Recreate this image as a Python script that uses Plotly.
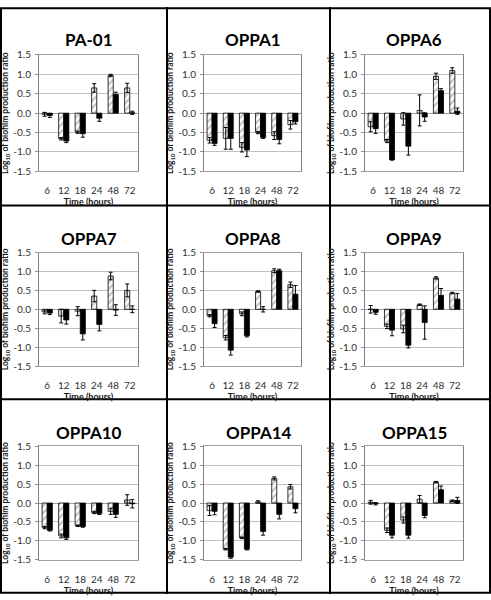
import plotly.graph_objects as go

times = ["6", "12", "18", "24", "48", "72"]
panel_names = ["PA-01", "OPPA1", "OPPA6", "OPPA7", "OPPA8", "OPPA9", "OPPA10", "OPPA14", "OPPA15"]
y_ticks = [-1.5, -1.0, -0.5, 0.0, 0.5, 1.0, 1.5]
y_tick_text = ["-1.5", "-1.0", "-0.5", "0.0", "0.5", "1.0", "1.5"]

# hatched series / black series, with error (SD) values
pa01_h = [-0.03, -0.66, -0.49, 0.65, 0.97, 0.65]
pa01_h_err = [0.05, 0.03, 0.03, 0.11, 0.03, 0.12]
pa01_b = [-0.06, -0.72, -0.53, -0.13, 0.48, 0.01]
pa01_b_err = [0.05, 0.04, 0.09, 0.08, 0.06, 0.04]

oppa1_h = [-0.70, -0.65, -0.88, -0.50, -0.58, -0.30]
oppa1_h_err = [0.07, 0.28, 0.12, 0.03, 0.10, 0.11]
oppa1_b = [-0.78, -0.65, -0.95, -0.63, -0.68, -0.22]
oppa1_b_err = [0.05, 0.28, 0.17, 0.02, 0.11, 0.06]

oppa6_h = [-0.35, -0.72, -0.15, 0.07, 0.95, 1.10]
oppa6_h_err = [0.13, 0.04, 0.16, 0.40, 0.08, 0.07]
oppa6_b = [-0.40, -1.20, -0.85, -0.10, 0.58, 0.05]
oppa6_b_err = [0.12, 0.01, 0.23, 0.11, 0.05, 0.08]

oppa7_h = [-0.07, -0.18, -0.05, 0.35, 0.88, 0.50]
oppa7_h_err = [0.05, 0.18, 0.12, 0.15, 0.10, 0.17]
oppa7_b = [-0.10, -0.28, -0.65, -0.40, -0.02, 0.00]
oppa7_b_err = [0.04, 0.11, 0.16, 0.17, 0.14, 0.09]

oppa8_h = [-0.17, -0.75, -0.12, 0.47, 1.02, 0.65]
oppa8_h_err = [0.03, 0.06, 0.05, 0.02, 0.05, 0.07]
oppa8_b = [-0.38, -1.08, -0.70, 0.00, 1.02, 0.40]
oppa8_b_err = [0.10, 0.13, 0.03, 0.07, 0.04, 0.23]

oppa9_h = [0.00, -0.45, -0.52, 0.12, 0.83, 0.43]
oppa9_h_err = [0.10, 0.06, 0.10, 0.02, 0.03, 0.02]
oppa9_b = [-0.08, -0.55, -0.95, -0.35, 0.37, 0.27]
oppa9_b_err = [0.05, 0.15, 0.07, 0.44, 0.18, 0.15]

oppa10_h = [-0.65, -0.87, -0.60, -0.25, -0.22, 0.08]
oppa10_h_err = [0.03, 0.05, 0.02, 0.03, 0.08, 0.14]
oppa10_b = [-0.72, -0.92, -0.62, -0.28, -0.30, -0.02]
oppa10_b_err = [0.02, 0.04, 0.02, 0.02, 0.08, 0.11]

oppa14_h = [-0.20, -1.22, -0.92, 0.03, 0.65, 0.43]
oppa14_h_err = [0.13, 0.02, 0.02, 0.03, 0.04, 0.06]
oppa14_b = [-0.22, -1.43, -1.22, -0.75, -0.30, -0.15]
oppa14_b_err = [0.09, 0.03, 0.02, 0.10, 0.12, 0.11]

oppa15_h = [0.02, -0.72, -0.45, 0.10, 0.55, 0.06]
oppa15_h_err = [0.05, 0.06, 0.08, 0.10, 0.02, 0.02]
oppa15_b = [-0.02, -0.85, -0.85, -0.33, 0.35, 0.07]
oppa15_b_err = [0.03, 0.07, 0.08, 0.06, 0.10, 0.08]

hatched_sets = [pa01_h, oppa1_h, oppa6_h, oppa7_h, oppa8_h, oppa9_h, oppa10_h, oppa14_h, oppa15_h]
hatched_errs = [pa01_h_err, oppa1_h_err, oppa6_h_err, oppa7_h_err, oppa8_h_err, oppa9_h_err,
                oppa10_h_err, oppa14_h_err, oppa15_h_err]
black_sets = [pa01_b, oppa1_b, oppa6_b, oppa7_b, oppa8_b, oppa9_b, oppa10_b, oppa14_b, oppa15_b]
black_errs = [pa01_b_err, oppa1_b_err, oppa6_b_err, oppa7_b_err, oppa8_b_err, oppa9_b_err,
              oppa10_b_err, oppa14_b_err, oppa15_b_err]

W, H = 491, 600
col_px = [(39, 138), (204, 301), (365, 463)]
row_px = [(49, 168), (251, 367), (449, 565)]
title_y_px = [33, 237, 435]
title_dx_px = [0, 0, 0, 0, 0, 0, 0, 6, 0]

FONT = "Lato"
fig = go.Figure()
layout = dict(
    width=W, height=H,
    margin=dict(l=0, r=0, t=0, b=0),
    paper_bgcolor="white", plot_bgcolor="white",
    showlegend=False,
    barmode="group", bargap=0.38, bargroupgap=0.0,
    font=dict(family=FONT, size=10, color="#303030"),
)
annotations = []
n = len(panel_names)
for i, name in enumerate(panel_names):
    r, c = divmod(i, 3)
    ax = "" if i == 0 else str(i + 1)
    xa, ya = "x" + ax, "y" + ax
    fig.add_trace(go.Bar(
        x=times, y=hatched_sets[i], xaxis=xa, yaxis=ya,
        marker=dict(color="white", line=dict(color="black", width=0.8),
                    pattern=dict(shape="/", fgcolor="#8c8c8c", bgcolor="white",
                                 size=5, solidity=0.45)),
        error_y=dict(type="data", array=hatched_errs[i], color="black", thickness=1, width=2),
        name="hatched",
    ))
    fig.add_trace(go.Bar(
        x=times, y=black_sets[i], xaxis=xa, yaxis=ya,
        marker=dict(color="black", line=dict(color="black", width=0.8)),
        error_y=dict(type="data", array=black_errs[i], color="black", thickness=1, width=2),
        name="black",
    ))
    x0, x1 = col_px[c]
    y0, y1 = row_px[r]
    ydom = [1 - y1 / H, 1 - y0 / H]
    layout["xaxis" + ax] = dict(
        domain=[x0 / W, x1 / W], anchor=ya, type="category",
        showline=True, linecolor="#a0a0a0", linewidth=1, mirror=True,
        showgrid=False, ticks="", ticklabelstandoff=10,
        tickfont=dict(size=10, family=FONT, color="#303030"),
        title=dict(text="<b>Time (hours)</b>", font=dict(size=9, family=FONT, color="#202020"),
                   standoff=0),
        fixedrange=True,
    )
    # category-boundary tick marks along the zero line
    k = str(n + 1 + i)
    layout["xaxis" + k] = dict(
        domain=[x0 / W, x1 / W], overlaying=xa, anchor="free",
        position=(ydom[0] + ydom[1]) / 2, side="bottom",
        type="linear", range=[-0.5, len(times) - 0.5],
        tickvals=[j - 0.5 for j in range(len(times) + 1)],
        showticklabels=False, ticks="outside", ticklen=3, tickcolor="#909090",
        showline=False, showgrid=False, zeroline=False, fixedrange=True,
    )
    layout["yaxis" + ax] = dict(
        domain=ydom, anchor=xa, range=[-1.5, 1.5],
        tickvals=y_ticks, ticktext=y_tick_text,
        showline=True, linecolor="#808080", linewidth=1, mirror=True,
        showgrid=True, gridcolor="#c0c0c0", gridwidth=1,
        zeroline=True, zerolinecolor="#a0a0a0", zerolinewidth=1,
        ticks="outside", ticklen=3, tickcolor="#909090", ticklabelstandoff=2,
        tickfont=dict(size=10, family=FONT, color="#303030"),
        title=dict(text="<b>Log<sub>10</sub> of biofilm production ratio</b>",
                   font=dict(size=8.5, family=FONT, color="#202020"), standoff=3),
        fixedrange=True,
    )
    annotations.append(dict(
        text="<b>" + name + "</b>", xref="paper", yref="paper",
        x=((x0 + x1) / 2 + title_dx_px[i]) / W, y=1 - title_y_px[r] / H,
        xanchor="center", yanchor="middle", showarrow=False,
        font=dict(size=17, family=FONT, color="black"),
    ))

layout["annotations"] = annotations
shapes = [
    dict(type="rect", xref="paper", yref="paper", x0=0.002, x1=0.998, y0=0.002, y1=0.998,
         line=dict(color="black", width=2)),
]
for xv in [167, 330]:
    shapes.append(dict(type="line", xref="paper", yref="paper", x0=xv / W, x1=xv / W, y0=0, y1=1,
                       line=dict(color="black", width=2)))
for yv in [203, 401]:
    shapes.append(dict(type="line", xref="paper", yref="paper", x0=0, x1=1, y0=1 - yv / H, y1=1 - yv / H,
                       line=dict(color="black", width=2)))
layout["shapes"] = shapes
fig.update_layout(**layout)
fig.write_html(
    "out.html",
    config={"displayModeBar": False},
    post_script="document.body.style.margin='0';document.body.style.padding='0';"
                "document.body.style.overflow='hidden';"
                "document.documentElement.style.overflow='hidden';"
                "var gd=document.getElementById('{plot_id}');"
                "gd.style.position='absolute';gd.style.top='0px';gd.style.left='0px';"
                "window.scrollTo(0,0);",
)
